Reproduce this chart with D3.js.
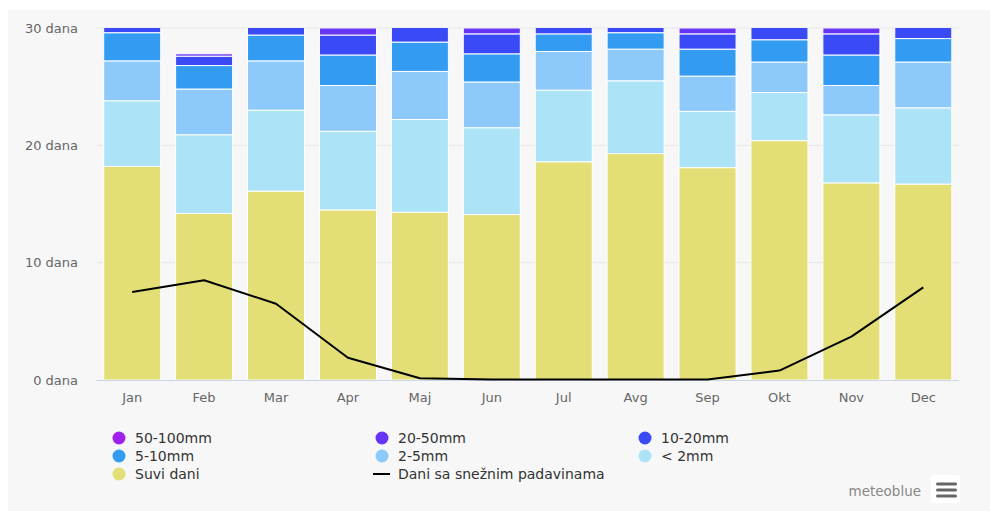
<!DOCTYPE html>
<html>
<head>
<meta charset="utf-8">
<script src="https://cdn.jsdelivr.net/npm/d3@7"></script>
<style>
  html, body { margin: 0; padding: 0; background: #ffffff; }
  svg { display: block; font-family: "DejaVu Sans", Verdana, sans-serif; }
</style>
</head>
<body>
<svg id="chart" width="990" height="511"></svg>
<script>
// Monthly precipitation-day climatology (days per month)
const months = ["Jan", "Feb", "Mar", "Apr", "Maj", "Jun", "Jul", "Avg", "Sep", "Okt", "Nov", "Dec"];
const dryDays   = [18.2, 14.2, 16.1, 14.5, 14.3, 14.1, 18.6, 19.3, 18.1, 20.4, 16.8, 16.7];
const under2mm  = [5.6, 6.7, 6.9, 6.7, 7.9, 7.4, 6.1, 6.2, 4.8, 4.1, 5.8, 6.5];
const mm2to5    = [3.4, 3.9, 4.2, 3.9, 4.1, 3.9, 3.3, 2.7, 3.0, 2.6, 2.5, 3.9];
const mm5to10   = [2.4, 2.0, 2.2, 2.6, 2.5, 2.4, 1.5, 1.4, 2.3, 1.9, 2.6, 2.0];
const mm10to20  = [1.4, 0.8, 1.6, 1.7, 2.2, 1.7, 1.5, 1.4, 1.3, 2.0, 1.8, 1.9];
const mm20to50  = [0, 0.2, 0, 0.6, 0, 0.5, 0, 0, 0.5, 0, 0.5, 0];
const mm50to100 = [0, 0, 0, 0, 0, 0, 0, 0, 0, 0, 0, 0];
const snowDays  = [7.5, 8.5, 6.5, 1.9, 0.15, 0.05, 0.05, 0.05, 0.05, 0.8, 3.7, 7.9];
const yTicks = [0, 10, 20, 30];

const series = [
  { key: "dry",   name: "Suvi dani", values: dryDays,   color: "#e3df76" },
  { key: "lt2",   name: "< 2mm",     values: under2mm,  color: "#ade3f7" },
  { key: "r2",    name: "2-5mm",     values: mm2to5,    color: "#8dc9fa" },
  { key: "r5",    name: "5-10mm",    values: mm5to10,   color: "#339cf2" },
  { key: "r10",   name: "10-20mm",   values: mm10to20,  color: "#3a4af7" },
  { key: "r20",   name: "20-50mm",   values: mm20to50,  color: "#6634f5" },
  { key: "r50",   name: "50-100mm",  values: mm50to100, color: "#a020ee" }
];

const rows = months.map((m, i) => {
  const r = { month: m };
  series.forEach(s => r[s.key] = s.values[i]);
  return r;
});

const svg = d3.select("#chart");

// panel background
svg.append("rect").attr("x", 8).attr("y", 10).attr("width", 982).attr("height", 501)
  .attr("fill", "#f7f7f7");

const plot = { left: 96.5, right: 959, top: 28, bottom: 380 };

const x = d3.scaleBand().domain(months).range([plot.left, plot.right]).paddingInner(0.207).paddingOuter(0.1);
const y = d3.scaleLinear().domain([0, 30]).range([plot.bottom, plot.top]);

// gridlines
svg.append("g").selectAll("line").data(yTicks.filter(t => t > 0)).join("line")
  .attr("x1", plot.left).attr("x2", plot.right)
  .attr("y1", d => y(d)).attr("y2", d => y(d))
  .attr("stroke", "#e6e6e6").attr("stroke-width", 1);

// y axis labels
const yAxis = d3.axisLeft(y).tickValues(yTicks).tickSize(0).tickPadding(0)
  .tickFormat(d => d + " dana");
svg.append("g").attr("transform", `translate(78,0)`).call(yAxis)
  .call(g => g.select(".domain").remove())
  .call(g => g.selectAll("text").attr("fill", "#666").attr("font-size", "13px")
    .attr("font-family", "DejaVu Sans, Verdana, sans-serif"));

// clip to plot area
svg.append("defs").append("clipPath").attr("id", "plotClip")
  .append("rect").attr("x", plot.left).attr("y", plot.top)
  .attr("width", plot.right - plot.left).attr("height", plot.bottom - plot.top);

const stack = d3.stack().keys(series.map(s => s.key));
const stacked = stack(rows);

const bars = svg.append("g").attr("clip-path", "url(#plotClip)");
stacked.forEach((layer, li) => {
  bars.append("g").attr("fill", series[li].color)
    .selectAll("rect").data(layer.filter(d => d[1] - d[0] > 0)).join("rect")
    .attr("x", d => x(d.data.month))
    .attr("width", x.bandwidth())
    .attr("y", d => y(d[1]))
    .attr("height", d => y(d[0]) - y(d[1]))
    .attr("stroke", "#ffffff").attr("stroke-width", 1);
});

// x axis baseline and labels
svg.append("line").attr("x1", plot.left).attr("x2", plot.right)
  .attr("y1", plot.bottom + 0.5).attr("y2", plot.bottom + 0.5)
  .attr("stroke", "#ccd6eb").attr("stroke-width", 1);

const xAxis = d3.axisBottom(x).tickSize(0).tickPadding(0);
svg.append("g").attr("transform", `translate(0,${plot.bottom + 13})`).call(xAxis)
  .call(g => g.select(".domain").remove())
  .call(g => g.selectAll("text").attr("fill", "#666").attr("font-size", "13px")
    .attr("font-family", "DejaVu Sans, Verdana, sans-serif"));

// snow days line
const line = d3.line()
  .x((d, i) => x(months[i]) + x.bandwidth() / 2)
  .y(d => y(d));
svg.append("path").datum(snowDays)
  .attr("d", line).attr("fill", "none")
  .attr("stroke", "#000").attr("stroke-width", 2).attr("stroke-linejoin", "round");

// legend
const legendItems = [
  { s: series[6], col: 0, row: 0 },
  { s: series[5], col: 1, row: 0 },
  { s: series[4], col: 2, row: 0 },
  { s: series[3], col: 0, row: 1 },
  { s: series[2], col: 1, row: 1 },
  { s: series[1], col: 2, row: 1 },
  { s: series[0], col: 0, row: 2 },
  { s: { name: "Dani sa snežnim padavinama", color: "#000" }, col: 1, row: 2, isLine: true }
];
const colX = [119, 382, 645];
const rowY = [438, 456, 474];
const legend = svg.append("g");
legendItems.forEach(it => {
  const cx = colX[it.col], cy = rowY[it.row];
  if (it.isLine) {
    legend.append("line").attr("x1", cx - 9).attr("x2", cx + 8).attr("y1", cy).attr("y2", cy)
      .attr("stroke", "#000").attr("stroke-width", 2);
  } else {
    legend.append("circle").attr("cx", cx).attr("cy", cy).attr("r", 6.5).attr("fill", it.s.color);
  }
  legend.append("text").attr("x", cx + 16).attr("y", cy).attr("dy", "0.35em")
    .attr("font-size", "14px").attr("fill", "#333").text(it.s.name);
});

// credit and menu button
svg.append("text").attr("x", 921).attr("y", 491).attr("dy", "0.35em").attr("text-anchor", "end")
  .attr("font-size", "13.5px").attr("fill", "#888").text("meteoblue");
svg.append("rect").attr("x", 931).attr("y", 475).attr("width", 29).attr("height", 28)
  .attr("rx", 3).attr("fill", "#ffffff");
[484, 490, 496].forEach(yy => {
  svg.append("rect").attr("x", 936).attr("y", yy - 1.5).attr("width", 21).attr("height", 3)
    .attr("rx", 1.5).attr("fill", "#666");
});
</script>
</body>
</html>
